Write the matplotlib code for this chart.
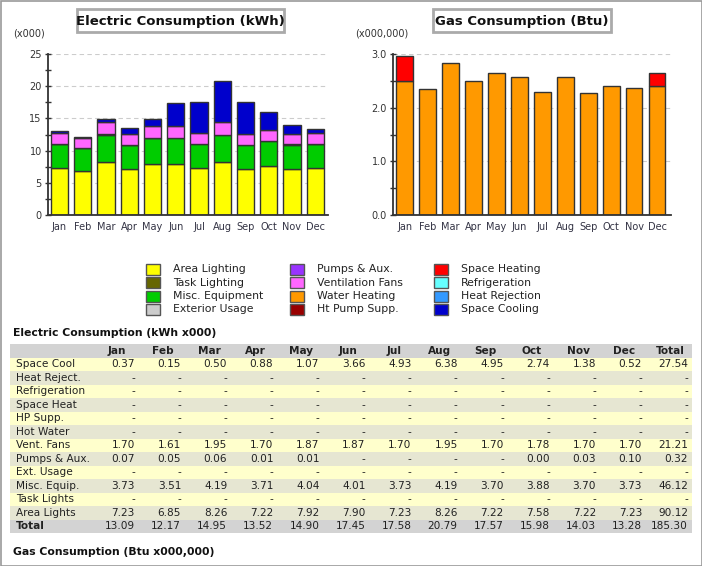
import numpy as np
import matplotlib.pyplot as plt
from matplotlib.patches import Rectangle

# ------------ DATA ------------
months = ['Jan', 'Feb', 'Mar', 'Apr', 'May', 'Jun',
          'Jul', 'Aug', 'Sep', 'Oct', 'Nov', 'Dec']

# electric end uses, kWh x000 (None = '-')
space_cool = [0.37, 0.15, 0.50, 0.88, 1.07, 3.66, 4.93, 6.38, 4.95, 2.74, 1.38, 0.52]
vent_fans = [1.70, 1.61, 1.95, 1.70, 1.87, 1.87, 1.70, 1.95, 1.70, 1.78, 1.70, 1.70]
pumps_aux = [0.07, 0.05, 0.06, 0.01, 0.01, None, None, None, None, 0.00, 0.03, 0.10]
misc_equip = [3.73, 3.51, 4.19, 3.71, 4.04, 4.01, 3.73, 4.19, 3.70, 3.88, 3.70, 3.73]
area_lights = [7.23, 6.85, 8.26, 7.22, 7.92, 7.90, 7.23, 8.26, 7.22, 7.58, 7.22, 7.23]
none_row = [None] * 12

elec_totals = [13.09, 12.17, 14.95, 13.52, 14.90, 17.45,
               17.58, 20.79, 17.57, 15.98, 14.03, 13.28]
row_totals = {'Space Cool': 27.54, 'Vent. Fans': 21.21, 'Pumps & Aux.': 0.32,
              'Misc. Equip.': 46.12, 'Area Lights': 90.12}
grand_total = 185.30

# gas end uses, Btu x000,000
water_heating = [2.49, 2.35, 2.83, 2.49, 2.64, 2.57, 2.30, 2.58, 2.27, 2.40, 2.36, 2.41]
space_heating = [0.48, 0, 0, 0, 0, 0, 0, 0, 0, 0, 0, 0.23]

# legend entries (label, colour)
legend_items = [
    ('Area Lighting', '#FFFF00'), ('Task Lighting', '#666600'),
    ('Misc. Equipment', '#00CC00'), ('Exterior Usage', '#CCCCCC'),
    ('Pumps & Aux.', '#9933FF'), ('Ventilation Fans', '#FF66FF'),
    ('Water Heating', '#FF9900'), ('Ht Pump Supp.', '#990000'),
    ('Space Heating', '#FF0000'), ('Refrigeration', '#66FFFF'),
    ('Heat Rejection', '#3399FF'), ('Space Cooling', '#0000CC'),
]
col = dict(legend_items)

# table rows, top to bottom
table_rows = [
    ('Space Cool', space_cool), ('Heat Reject.', none_row),
    ('Refrigeration', none_row), ('Space Heat', none_row),
    ('HP Supp.', none_row), ('Hot Water', none_row),
    ('Vent. Fans', vent_fans), ('Pumps & Aux.', pumps_aux),
    ('Ext. Usage', none_row), ('Misc. Equip.', misc_equip),
    ('Task Lights', none_row), ('Area Lights', area_lights),
]

W, H = 702, 566
plt.rcParams['font.family'] = ['DejaVu Sans']
fig = plt.figure(figsize=(W / 100, H / 100), dpi=100)

# overlay in pixel coordinates for the page parts
ov = fig.add_axes([0, 0, 1, 1])
ov.set_xlim(0, W)
ov.set_ylim(H, 0)
ov.axis('off')
ov.add_patch(Rectangle((0.5, 0.5), W - 1, H - 1, fc='white', ec='#999999', lw=1.2))

edge = '#333333'


def style_axes(ax, ymax, major, fmt):
    for s in ['top', 'right']:
        ax.spines[s].set_visible(False)
    for s in ['left', 'bottom']:
        ax.spines[s].set_color(edge)
        ax.spines[s].set_linewidth(1.3)
    ax.set_ylim(0, ymax)
    ax.set_yticks(np.arange(0, ymax + 1e-9, major))
    ax.set_yticks(np.arange(0, ymax + 1e-9, major / 2), minor=True)
    ax.set_yticklabels([fmt % v for v in np.arange(0, ymax + 1e-9, major)])
    ax.tick_params(axis='y', which='both', direction='inout', length=5,
                   width=1, color=edge, labelsize=7, labelcolor='#333333', pad=2)
    ax.set_xticks(range(12))
    ax.set_xticklabels(months)
    ax.tick_params(axis='x', length=0, labelsize=7, labelcolor='#333344', pad=5)
    ax.yaxis.grid(True, which='major', color='#cccccc', linestyle=(0, (4, 3)), lw=0.8)
    ax.set_axisbelow(True)


# ------------ ELECTRIC CHART ------------
ax1 = fig.add_axes([48 / W, 1 - 215 / H, 280 / W, 161 / H])
x = np.arange(12)
bottom = np.zeros(12)
layers = [(area_lights, col['Area Lighting']), (misc_equip, col['Misc. Equipment']),
          (pumps_aux, col['Pumps & Aux.']), (vent_fans, col['Ventilation Fans']),
          (space_cool, col['Space Cooling'])]
for vals, c in layers:
    v = np.array([0 if a is None else a for a in vals], dtype=float)
    m = v > 0
    ax1.bar(x[m], v[m], 0.745, bottom=bottom[m], color=c, edgecolor=edge, lw=1)
    bottom += v
ax1.set_xlim(-0.49, 11.55)
style_axes(ax1, 25, 5, '%d')

# ------------ GAS CHART ------------
ax2 = fig.add_axes([393 / W, 1 - 215 / H, 278 / W, 161 / H])
wh = np.array(water_heating)
sh = np.array(space_heating)
ax2.bar(x, wh, 0.73, color=col['Water Heating'], edgecolor=edge, lw=1)
m = sh > 0
ax2.bar(x[m], sh[m], 0.73, bottom=wh[m], color=col['Space Heating'], edgecolor=edge, lw=1)
ax2.set_xlim(-0.51, 11.61)
style_axes(ax2, 3.0, 1.0, '%.1f')

# chart titles
for (x0, x1, txt) in [(77, 284, 'Electric Consumption (kWh)'),
                      (433, 611, 'Gas Consumption (Btu)')]:
    ov.add_patch(Rectangle((x0, 9), x1 - x0, 23, fc='white', ec='#aaaaaa', lw=2))
    ov.text((x0 + x1) / 2, 21, txt, ha='center', va='center',
            fontsize=9.5, fontweight='bold', color='#111111')
ov.text(13, 34, '(x000)', fontsize=7, color='#333333', va='center')
ov.text(355, 34, '(x000,000)', fontsize=7, color='#333333', va='center')

# ------------ LEGEND ------------
leg_x = [146, 290, 434]
for i, (lab, c) in enumerate(legend_items):
    cx = leg_x[i // 4]
    cy = 269 + 13.5 * (i % 4)
    ov.add_patch(Rectangle((cx, cy - 5.5), 14, 11, fc=c, ec='#555555', lw=1))
    ov.text(cx + 27, cy, lab, fontsize=7.8, va='center', color='#222222')

# ------------ TABLE ------------
ov.text(13, 333, 'Electric Consumption (kWh x000)', fontsize=7.8,
        fontweight='bold', va='center', color='#111111')
ov.text(13, 552, 'Gas Consumption (Btu x000,000)', fontsize=7.8,
        fontweight='bold', va='center', color='#111111')

tx0, tx1 = 10, 692
top, rh = 344, 13.5
col_right = [135 + 46.1 * k for k in range(13)]
hdr = months + ['Total']

n_rows = len(table_rows) + 2
for r in range(n_rows):
    if r == 0 or r == n_rows - 1:
        fc = '#d3d3d3'
    elif r % 2 == 1:
        fc = '#ffffcc'
    else:
        fc = '#e6e6d2'
    ov.add_patch(Rectangle((tx0, top + r * rh), tx1 - tx0, rh, fc=fc, ec='none'))

fs = 7.6
tc = '#222222'
yc = top + rh / 2
for k, h in enumerate(hdr):
    ov.text(col_right[k] - 18, yc, h, ha='center', va='center', fontsize=fs,
            fontweight='bold', color=tc)

for r, (name, vals) in enumerate(table_rows):
    yc = top + (r + 1.5) * rh
    ov.text(16, yc, name, va='center', fontsize=fs, color=tc)
    for k, v in enumerate(vals):
        s = '-' if v is None else '%.2f' % v
        ov.text(col_right[k], yc, s, ha='right', va='center', fontsize=fs, color=tc)
    tot = row_totals.get(name)
    s = '-' if tot is None else '%.2f' % tot
    ov.text(col_right[12], yc, s, ha='right', va='center', fontsize=fs, color=tc)

yc = top + (n_rows - 0.5) * rh
ov.text(16, yc, 'Total', va='center', fontsize=fs, fontweight='bold', color=tc)
for k, v in enumerate(elec_totals + [grand_total]):
    ov.text(col_right[k], yc, '%.2f' % v, ha='right', va='center', fontsize=fs, color=tc)

fig.savefig('out.png', dpi=100)
